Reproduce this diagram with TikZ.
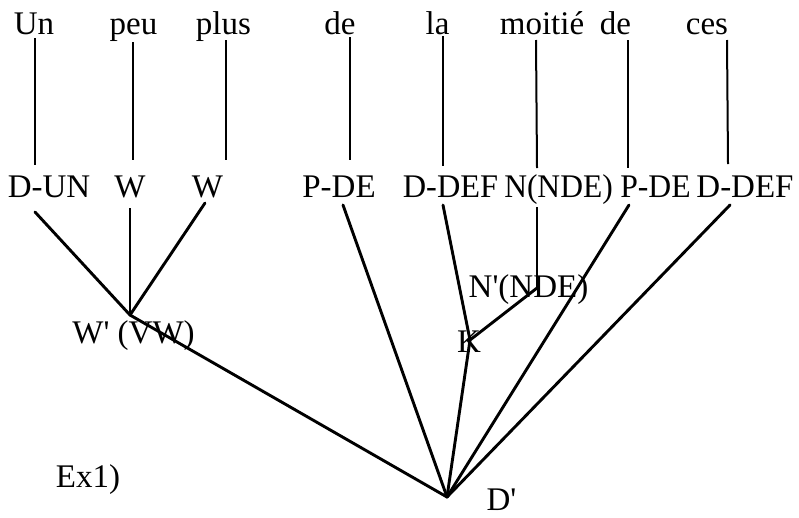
\documentclass[tikz,border=0pt]{standalone}
\usepackage{graphicx}
\usepackage{fontspec}
\setmainfont{Liberation Serif}
\begin{document}
\begin{tikzpicture}[x=1pt,y=-1pt,
  txt/.style={anchor=base,inner sep=0pt,font=\fontsize{33}{38}\selectfont},
  thin/.style={line width=2pt},
  thick/.style={line width=2.9pt,line cap=round,line join=round}]
\useasboundingbox (0,0) rectangle (799,517);
% words
\node[txt] (w1) at (34,34) {Un};
\node[txt] (w2) at (133.5,34) {peu};
\node[txt] (w3) at (223.5,34) {plus};
\node[txt] (w4) at (340,34) {de};
\node[txt] (w5) at (437.5,34) {la};
\node[txt] (w6) at (542,34) {moitié};
\node[txt] (w7) at (615.5,34) {de};
\node[txt] (w8) at (707,34) {ces};
% categories
\node[txt] (c1) at (49,197) {D-UN};
\node[txt] (c2) at (130,197) {W};
\node[txt] (c3) at (207.5,197) {W};
\node[txt] (c4) at (339,197) {P-DE};
\node[txt] (c5) at (450.5,197) {\scalebox{0.98}[1]{D-DEF}};
\node[txt] (c6) at (558.5,197) {\scalebox{0.955}[1]{N(NDE)}};
\node[txt] (c7) at (655.5,197) {\scalebox{0.96}[1]{P-DE}};
\node[txt] (c8) at (745,197) {D-DEF};
% phrase labels
\node[txt] (lw) at (133.5,343) {W\textquotesingle{} (VW)};
\node[txt] (ln) at (528.5,297) {N\textquotesingle(NDE)};
\node[txt] (lk) at (469,352) {K};
\node[txt] (ld) at (501.5,510) {D\textquotesingle};
\node[txt] (ex) at (88,487) {Ex1)};
% junctions
\coordinate (Wp) at (130,315);
\coordinate (Np) at (537,288);
\coordinate (K) at (470,340);
\coordinate (Dp) at (447,497);
% ends of the word-to-category lines
\coordinate (a1) at (35,38);   \coordinate (b1) at (35,165);
\coordinate (a2) at (133,42);  \coordinate (b2) at (133,160);
\coordinate (a3) at (226,40);  \coordinate (b3) at (226,160);
\coordinate (a4) at (350,37);  \coordinate (b4) at (350,160);
\coordinate (a5) at (443,36);  \coordinate (b5) at (443,166);
\coordinate (a6) at (536,40);  \coordinate (b6) at (537,168);
\coordinate (a7) at (628,40);  \coordinate (b7) at (628,168);
\coordinate (a8) at (727,40);  \coordinate (b8) at (728,164);
\foreach \i in {1,...,8} \draw[thin] (a\i) -- (b\i);
% lower ends of categories
\coordinate (d1) at (35,212);
\coordinate (d2) at (130,208);
\coordinate (d3) at (205,203);
\coordinate (d4) at (343,205);
\coordinate (d5) at (443,205);
\coordinate (d6) at (537,207);
\coordinate (d7) at (629,205);
\coordinate (d8) at (730,205);
\draw[thick] (d1) -- (Wp);
\draw[thin] (d2) -- (Wp);
\draw[thick] (d3) -- (Wp);
\draw[thick] (Wp) -- (Dp);
\draw[thick] (d4) -- (Dp);
\draw[thick] (d5) -- (K);
\draw[thick] (K) -- (Dp);
\draw[thin] (d6) -- (Np);
\draw[thick] (Np) -- (K);
\draw[thick] (d7) -- (Dp);
\draw[thick] (d8) -- (Dp);
\end{tikzpicture}
\end{document}
